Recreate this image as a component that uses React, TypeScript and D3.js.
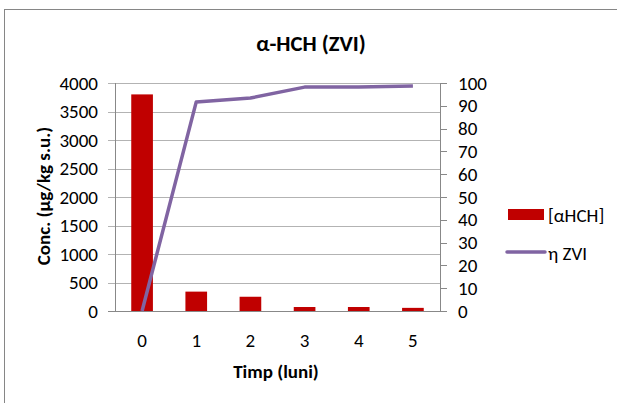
import React from "react";
import * as d3 from "d3";

const categories = ["0", "1", "2", "3", "4", "5"];
const concValues = [3800, 340, 250, 70, 70, 55];
const etaValues = [0, 91.7, 93.4, 98.2, 98.2, 98.7];
const leftTicks = [0, 500, 1000, 1500, 2000, 2500, 3000, 3500, 4000];
const rightTicks = [0, 10, 20, 30, 40, 50, 60, 70, 80, 90, 100];

const W = 617, H = 403;
const plot = { left: 115, right: 440, top: 83, bottom: 311 };
const font = "Carlito, 'Open Sans', 'Liberation Sans', sans-serif";

export default function App() {
  const x = d3.scaleBand<string>().domain(categories).range([plot.left, plot.right]);
  const yL = d3.scaleLinear().domain([0, 4000]).range([plot.bottom, plot.top]);
  const yR = d3.scaleLinear().domain([0, 100]).range([plot.bottom, plot.top]);
  const bw = x.bandwidth() / 2.5;
  const line = d3.line<number>().x((_, i) => x(categories[i])! + x.bandwidth() / 2).y((d) => yR(d));
  const grid = "#b3b3b3";
  const axis = "#888888";
  return (
    <svg width={W} height={H} style={{ position: "absolute", left: 0, top: 0, fontFamily: font }}>
      <rect x={0} y={0} width={W} height={H} fill="#fff" />
      <rect x={4.5} y={9.5} width={640} height={420} fill="#fff" stroke="#868686" strokeWidth={1} />
      <text x={311} y={43} dy="0.35em" textAnchor="middle" fontSize={22.5} fontWeight="bold" fill="#000">α-HCH (ZVI)</text>
      {leftTicks.map((t) => (
        <g key={"l" + t}>
          <line x1={plot.left - 7} x2={plot.right} y1={Math.round(yL(t)) + 0.5} y2={Math.round(yL(t)) + 0.5} stroke={t === 0 ? axis : grid} />
          <text x={98} y={yL(t)} dy="0.35em" textAnchor="end" fontSize={19} fill="#000">{t}</text>
        </g>
      ))}
      {rightTicks.map((t) => (
        <g key={"r" + t}>
          <line x1={plot.right} x2={plot.right + 7} y1={Math.round(yR(t)) + 0.5} y2={Math.round(yR(t)) + 0.5} stroke={axis} />
          <text x={458} y={yR(t)} dy="0.35em" textAnchor="start" fontSize={19} fill="#000">{t}</text>
        </g>
      ))}
      <line x1={plot.left + 0.5} x2={plot.left + 0.5} y1={plot.top} y2={plot.bottom} stroke={axis} />
      <line x1={plot.right + 0.5} x2={plot.right + 0.5} y1={plot.top} y2={plot.bottom} stroke={axis} />
      {categories.map((c, i) => (
        <g key={"c" + c}>
          <rect x={x(c)! + x.bandwidth() / 2 - bw / 2} y={yL(concValues[i])} width={bw} height={plot.bottom - yL(concValues[i])} fill="#c00000" />
          <text x={x(c)! + x.bandwidth() / 2} y={340} dy="0.35em" textAnchor="middle" fontSize={19} fill="#000">{c}</text>
        </g>
      ))}
      <path d={line(etaValues)!} fill="none" stroke="#8064a2" strokeWidth={3.5} strokeLinejoin="round" />
      <text x={276} y={371} dy="0.35em" textAnchor="middle" fontSize={19} fontWeight="bold" fill="#000">Timp (luni)</text>
      <text transform={`translate(43,196) rotate(-90)`} dy="0.35em" textAnchor="middle" fontSize={19} fontWeight="bold" fill="#000">Conc. (µg/kg s.u.)</text>
      <rect x={508} y={209} width={36} height={11} fill="#c00000" />
      <text x={548} y={215} dy="0.35em" fontSize={19} fill="#000">[αHCH]</text>
      <line x1={507} x2={545} y1={252} y2={252} stroke="#8064a2" strokeWidth={3.5} strokeLinecap="round" />
      <text x={548} y={253} dy="0.35em" fontSize={19} fill="#000">η ZVI</text>
    </svg>
  );
}
